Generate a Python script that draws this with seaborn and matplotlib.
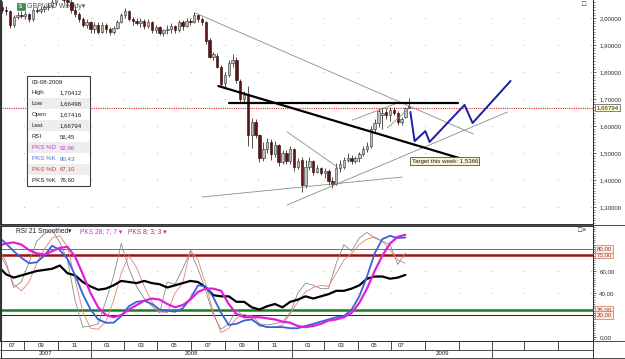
import matplotlib
matplotlib.use("Agg")
import matplotlib.pyplot as plt
import matplotlib.transforms as mtransforms
from matplotlib.patches import Rectangle
from matplotlib.lines import Line2D
from matplotlib.ticker import FuncFormatter, MultipleLocator
import numpy as np
import pandas as pd
import seaborn as sns

# Velas semanales GBPUSD, la semana 0 es el 23-07-2007
primera_semana = pd.Timestamp("2007-07-23")

aperturas = [
    2.040, 2.030, 2.025, 1.975, 2.005, 2.012, 2.008, 2.015, 1.995, 2.030,
    2.025, 2.035, 2.040, 2.045, 2.060, 2.080, 2.090, 2.065, 2.060, 2.030,
    2.015, 1.995, 1.975, 1.985, 1.960, 1.975, 1.950, 1.975, 1.960, 1.950,
    1.962, 1.985, 2.010, 2.025, 1.995, 1.990, 1.980, 1.990, 1.970, 1.985,
    1.955, 1.965, 1.945, 1.955, 1.960, 1.970, 1.955, 1.985, 1.970, 1.990,
    1.985, 2.010, 1.995, 1.985, 1.918, 1.855, 1.860, 1.820, 1.760, 1.790,
    1.835, 1.845, 1.765, 1.700, 1.720, 1.565, 1.615, 1.565, 1.480, 1.515,
    1.540, 1.495, 1.530, 1.465, 1.500, 1.470, 1.515, 1.450, 1.475, 1.380,
    1.450, 1.470, 1.430, 1.445, 1.425, 1.435, 1.395, 1.385, 1.445, 1.450,
    1.475, 1.480, 1.470, 1.480, 1.495, 1.515, 1.525, 1.590, 1.610, 1.640,
    1.650, 1.640, 1.660, 1.650, 1.615, 1.635, 1.67416]
maximos = [
    2.062, 2.045, 2.030, 2.011, 2.022, 2.025, 2.025, 2.020, 2.037, 2.040,
    2.045, 2.050, 2.055, 2.070, 2.085, 2.116, 2.105, 2.085, 2.075, 2.045,
    2.022, 2.004, 1.995, 1.990, 1.985, 1.985, 1.985, 1.980, 1.967, 1.970,
    1.993, 2.020, 2.037, 2.030, 2.005, 2.000, 2.000, 1.998, 1.995, 1.990,
    1.975, 1.970, 1.960, 1.975, 1.981, 1.975, 1.993, 1.993, 2.000, 2.000,
    2.022, 2.015, 2.005, 1.990, 1.925, 1.875, 1.870, 1.825, 1.800, 1.845,
    1.868, 1.855, 1.775, 1.730, 1.750, 1.630, 1.625, 1.570, 1.540, 1.555,
    1.550, 1.545, 1.535, 1.510, 1.510, 1.525, 1.520, 1.480, 1.485, 1.474,
    1.485, 1.474, 1.456, 1.448, 1.444, 1.440, 1.411, 1.463, 1.474, 1.487,
    1.500, 1.493, 1.490, 1.505, 1.525, 1.540, 1.600, 1.625, 1.668, 1.672,
    1.668, 1.672, 1.670, 1.655, 1.635, 1.672, 1.70412]
minimos = [
    2.018, 2.010, 1.963, 1.966, 1.995, 2.000, 1.998, 1.985, 1.990, 2.018,
    2.020, 2.022, 2.030, 2.038, 2.050, 2.070, 2.055, 2.040, 2.020, 2.005,
    1.985, 1.965, 1.963, 1.944, 1.945, 1.940, 1.945, 1.945, 1.937, 1.940,
    1.960, 1.980, 2.000, 1.990, 1.975, 1.974, 1.965, 1.960, 1.962, 1.945,
    1.944, 1.937, 1.935, 1.940, 1.944, 1.945, 1.950, 1.956, 1.965, 1.974,
    1.980, 1.985, 1.975, 1.905, 1.850, 1.845, 1.815, 1.750, 1.745, 1.780,
    1.820, 1.760, 1.690, 1.685, 1.525, 1.520, 1.555, 1.465, 1.470, 1.500,
    1.475, 1.485, 1.450, 1.460, 1.460, 1.460, 1.435, 1.440, 1.355, 1.370,
    1.437, 1.419, 1.426, 1.419, 1.407, 1.381, 1.370, 1.380, 1.430, 1.440,
    1.465, 1.460, 1.462, 1.465, 1.490, 1.505, 1.520, 1.575, 1.595, 1.590,
    1.625, 1.620, 1.640, 1.605, 1.605, 1.630, 1.66498]
cierres = [
    2.030, 2.025, 1.975, 2.005, 2.012, 2.008, 2.015, 1.995, 2.030, 2.025,
    2.035, 2.040, 2.045, 2.060, 2.080, 2.090, 2.065, 2.060, 2.030, 2.015,
    1.995, 1.975, 1.985, 1.960, 1.975, 1.950, 1.975, 1.960, 1.950, 1.962,
    1.985, 2.010, 2.025, 1.995, 1.990, 1.980, 1.990, 1.970, 1.985, 1.955,
    1.965, 1.945, 1.955, 1.960, 1.970, 1.955, 1.985, 1.970, 1.990, 1.985,
    2.010, 1.995, 1.985, 1.915, 1.855, 1.865, 1.820, 1.755, 1.790, 1.835,
    1.845, 1.770, 1.700, 1.715, 1.565, 1.615, 1.565, 1.480, 1.515, 1.540,
    1.495, 1.530, 1.465, 1.500, 1.470, 1.515, 1.450, 1.470, 1.380, 1.450,
    1.470, 1.430, 1.445, 1.425, 1.435, 1.395, 1.385, 1.445, 1.460, 1.475,
    1.480, 1.470, 1.480, 1.495, 1.515, 1.525, 1.590, 1.610, 1.655, 1.650,
    1.640, 1.660, 1.650, 1.615, 1.625, 1.668, 1.66794]

# Indicadores leidos cada dos semanas desde el 16-07-2007
fechas_ind = pd.date_range("2007-07-16", periods=54, freq="14D")
rsi = [64, 57, 54, 56, 58, 60, 61, 62, 65, 58, 56, 50, 46, 43, 44, 47, 51, 50,
       49, 51, 49, 48, 45, 47, 49, 51, 50, 45, 38, 37, 37, 32, 32, 27, 25, 28,
       30, 27, 32, 34, 37, 35, 37, 39, 42, 42, 44, 47, 53, 55, 55, 53, 54, 56.45]
pks_d_lento = [83, 85, 86, 84, 79, 76, 75, 78, 81, 82, 73, 57, 40, 27, 20, 18,
               20, 25, 29, 33, 35, 34, 30, 27, 29, 34, 41, 44, 44, 42, 30, 21,
               18, 18, 18, 17, 16, 14, 13, 10, 9, 10, 12, 15, 16, 18, 22, 31,
               44, 60, 74, 85, 91, 92.96]
pks_k_lento = [91, 85, 78, 72, 67, 68, 74, 83, 79, 71, 56, 39, 25, 16, 13, 13,
               19, 28, 32, 33, 30, 25, 24, 23, 26, 35, 47, 46, 36, 22, 11, 12,
               15, 16, 11, 9, 9, 9, 8, 8, 10, 12, 14, 16, 18, 19, 25, 37, 55,
               76, 89, 92, 90, 90.43]
pks_d_rapido = [78, 65, 48, 42, 50, 67, 80, 90, 92, 82, 52, 23, 8, 7, 14, 33,
                58, 74, 63, 46, 32, 23, 22, 40, 49, 79, 70, 48, 22, 4, 8, 17,
                21, 17, 10, 9, 9, 11, 21, 32, 41, 45, 47, 46, 58, 70, 76, 84,
                89, 91, 87, 79, 70, 67.10]
pks_k_rapido = [82, 68, 45, 50, 68, 87, 94, 97, 86, 70, 33, 9, 10, 12, 33, 55,
                85, 62, 46, 35, 28, 22, 50, 48, 62, 78, 62, 42, 20, 7, 12, 25,
                18, 20, 12, 11, 12, 14, 22, 40, 49, 47, 44, 44, 67, 84, 78, 90,
                95, 90, 87, 84, 66, 76.60]

# Dibujos sobre el grafico: (semana inicio, precio inicio, semana fin, precio fin)
lineas_finas = [(50.3, 2.0185, 122.7, 1.5704), (74.2, 1.3074, 131.6, 1.6519),
                (52.1, 1.337, 104.2, 1.411), (74.2, 1.578, 87.3, 1.448),
                (91.2, 1.622, 103.7, 1.689), (100.3, 1.593, 106.3, 1.670)]
lineas_gruesas = [(56.3, 1.748, 123.3, 1.463), (59.1, 1.685, 118.6, 1.685)]
proyeccion_semanas = [106.3, 107.4, 110.2, 111.3, 120.4, 122.5, 132.4]
proyeccion_precios = [1.652, 1.544, 1.581, 1.541, 1.678, 1.611, 1.767]

filas_info = [("03-08-2009", "", "#202020"), ("High", "1,70412", "#202020"),
              ("Low", "1,66498", "#202020"), ("Open", "1,67416", "#202020"),
              ("Last", "1,66794", "#202020"), ("RSI", "56,45", "#202020"),
              ("PKS %D", "92,96", "#d030d0"), ("PKS %K", "90,43", "#4a6ad0"),
              ("PKS %D", "67,10", "#c83c3c"), ("PKS %K", "76,60", "#202020")]


def semana(fecha):
    return (pd.Timestamp(fecha) - primera_semana).days / 7.0


def fx(px):
    return px / 625.0


def fy(py):
    return 1.0 - py / 359.0


sns.set_style("white")
plt.rcParams['font.family'] = ['Liberation Sans', 'DejaVu Sans']
fs = 4.4

fig = plt.figure(figsize=(6.25, 3.59), dpi=100)
ax_p = fig.add_axes([0, fy(224), fx(593), 224 / 359])
ax_i = fig.add_axes([0, fy(341), fx(593), (341 - 226) / 359])
ax_t = fig.add_axes([0, fy(358), fx(593), (358 - 341) / 359])

x_min, x_max = semana("2007-07-19"), semana("2010-07-04")

# rejilla de puntos cada dos meses
inicios_mes = pd.date_range("2007-07-01", "2010-07-01", freq="2MS")
x_rejilla = [semana(m) for m in inicios_mes]

# ---------------- panel de precios ----------------
o = np.array(aperturas)
h = np.array(maximos)
l = np.array(minimos)
c = np.array(cierres)
x_velas = np.arange(len(c))
alcista = c >= o

gx, gy = np.meshgrid(x_rejilla, np.arange(1.3, 2.05, 0.1))
ax_p.scatter(gx.ravel(), gy.ravel(), s=0.6, color="#b8b8b8", lw=0, zorder=1)

ax_p.axhline(c[-1], color="#c83030", ls=(0, (1, 1)), lw=0.8, zorder=2)
ax_p.vlines(x_velas, l, h, color="#3a3030", lw=0.6, zorder=3)
ax_p.bar(x_velas[alcista], (c - o)[alcista], bottom=o[alcista], width=0.62,
         color="#bac6b8", edgecolor="#303030", lw=0.4, zorder=4)
ax_p.bar(x_velas[~alcista], (o - c)[~alcista], bottom=c[~alcista], width=0.62,
         color="#5e1414", edgecolor="#2a0808", lw=0.4, zorder=4)

for s0, p0, s1, p1 in lineas_finas:
    ax_p.plot([s0, s1], [p0, p1], color="#8c8c8c", lw=0.6, zorder=5)
for s0, p0, s1, p1 in lineas_gruesas:
    ax_p.plot([s0, s1], [p0, p1], color="black", lw=1.6, zorder=5)
sns.lineplot(x=proyeccion_semanas, y=proyeccion_precios, ax=ax_p,
             color="#1c1ca8", lw=1.4, sort=False, zorder=6)

ax_p.text(106.6, 1.470, "Target this week: 1,5366", fontsize=fs,
          color="#202020", va="center", ha="left", zorder=7,
          bbox=dict(boxstyle="square,pad=0.2", fc="#fbf3d5", ec="#505050", lw=0.6))

ax_p.set_xlim(x_min, x_max)
ax_p.set_ylim(2.0 - (224 - 18) / 270, 2.0 + 18 / 270)
ax_p.yaxis.tick_right()
ax_p.set_yticks(np.arange(1.3, 2.05, 0.1))
ax_p.yaxis.set_minor_locator(MultipleLocator(0.01))
ax_p.yaxis.set_major_formatter(FuncFormatter(lambda v, p: f"{v:.5f}".replace(".", ",")))
ax_p.tick_params(axis="y", which="major", length=2.5, width=0.5, pad=2,
                 labelsize=fs, colors="#303030", right=True, left=False)
ax_p.tick_params(axis="y", which="minor", length=1.2, width=0.4, right=True, left=False)
ax_p.set_xticks([])
for lado in ["top"]:
    ax_p.spines[lado].set_visible(False)
for lado in ["left", "right", "bottom"]:
    ax_p.spines[lado].set_color("#303030")
    ax_p.spines[lado].set_linewidth(0.7)

trans_p = mtransforms.blended_transform_factory(ax_p.transAxes, ax_p.transData)
ax_p.text(1.006, c[-1], f"{c[-1]:.5f}".replace(".", ","), transform=trans_p,
          fontsize=fs, va="center", ha="left", color="#202020", zorder=8,
          bbox=dict(boxstyle="square,pad=0.2", fc="#ffffd8", ec="#505050", lw=0.5))

ax_p.text(fx(27), fy(6), "GBPUSD Weekly\u25be", transform=fig.transFigure,
          fontsize=5, color="#505050", va="center", ha="left", zorder=1)
fig.add_artist(Rectangle((fx(17), fy(10)), fx(8), 7 / 359, fc="#3d8d52",
                         ec="#2c6a3c", lw=0.4, transform=fig.transFigure))
fig.text(fx(21), fy(6), "S", fontsize=3.5, color="white", ha="center", va="center",
         fontweight="bold")
fig.text(fx(584), fy(5), "\u25a1", fontsize=5, color="#202020", ha="center", va="center")

# ---------------- panel de indicadores ----------------
df_ind = pd.DataFrame({"semana": [semana(f) for f in fechas_ind], "rsi": rsi,
                       "pks_d_lento": pks_d_lento, "pks_k_lento": pks_k_lento,
                       "pks_d_rapido": pks_d_rapido, "pks_k_rapido": pks_k_rapido})

gx, gy = np.meshgrid(x_rejilla, [40, 60])
ax_i.scatter(gx.ravel(), gy.ravel(), s=0.6, color="#b8b8b8", lw=0, zorder=1)

ax_i.axhline(80, color="#c84848", lw=0.7, zorder=2)
ax_i.axhline(75, color="#a01010", lw=1.8, zorder=2)
ax_i.axhline(25, color="#1d7d1d", lw=1.8, zorder=2)
ax_i.axhline(20, color="#202020", lw=0.7, zorder=2)

sns.lineplot(data=df_ind, x="semana", y="pks_k_rapido", ax=ax_i, color="#8a8a8a", lw=0.6)
sns.lineplot(data=df_ind, x="semana", y="pks_d_rapido", ax=ax_i, color="#e0826e", lw=0.6)
sns.lineplot(data=df_ind, x="semana", y="rsi", ax=ax_i, color="black", lw=1.6)
sns.lineplot(data=df_ind, x="semana", y="pks_k_lento", ax=ax_i, color="#3a62d8", lw=1.3)
sns.lineplot(data=df_ind, x="semana", y="pks_d_lento", ax=ax_i, color="#e020d8", lw=1.6)

ax_i.set_xlim(x_min, x_max)
ax_i.set_ylim(-3.6, 100.9)
ax_i.set_xlabel("")
ax_i.set_ylabel("")
ax_i.set_xticks([])
ax_i.yaxis.tick_right()
ax_i.set_yticks([0, 20, 40, 60, 80])
ax_i.set_yticklabels(["0,00", "", "40,00", "60,00", ""])
ax_i.yaxis.set_minor_locator(MultipleLocator(2))
ax_i.tick_params(axis="y", which="major", length=2.5, width=0.5, pad=2,
                 labelsize=fs, colors="#303030", right=True, left=False)
ax_i.tick_params(axis="y", which="minor", length=1.2, width=0.4, right=True, left=False)
for lado in ["left", "right", "bottom", "top"]:
    ax_i.spines[lado].set_color("#303030")
    ax_i.spines[lado].set_linewidth(0.7)

trans_i = mtransforms.blended_transform_factory(ax_i.transAxes, ax_i.transData)
for nivel, orden in [(75, 8), (80, 9), (25, 8), (20, 9)]:
    ax_i.text(1.006, nivel, f"{nivel:.2f}".replace(".", ","), transform=trans_i,
              fontsize=fs, va="center", ha="left", color="#b03020", zorder=orden,
              bbox=dict(boxstyle="square,pad=0.2", fc="#fdece6", ec="#d07060", lw=0.5))

ax_i.text(16 / 593, 0.955, "RSI 21 Smoothed\u25be", transform=ax_i.transAxes,
          fontsize=fs + 0.4, color="#202020", va="center")
ax_i.text(80 / 593, 0.955, "PKS 28; 7; 7 \u25be", transform=ax_i.transAxes,
          fontsize=fs + 0.4, color="#c830c8", va="center")
ax_i.text(128 / 593, 0.955, "PKS 8; 3; 3 \u25be", transform=ax_i.transAxes,
          fontsize=fs + 0.4, color="#b83030", va="center")
fig.text(fx(582), fy(231), "\u25a1\u00d7", fontsize=5, color="#202020",
         ha="center", va="center")

# ---------------- cuadro de datos ----------------
fig.add_artist(Rectangle((fx(27), fy(186)), fx(63), 110 / 359, fc="white",
                         ec="#404040", lw=0.8, transform=fig.transFigure, zorder=9))
for k, (etiqueta, valor, color) in enumerate(filas_info):
    y_fila = 82 + 10.9 * k
    if k % 2 == 0 and k > 0:
        fig.add_artist(Rectangle((fx(27.5), fy(y_fila + 5.4)), fx(62), 10.9 / 359,
                                 fc="#ededed", ec="none", transform=fig.transFigure,
                                 zorder=9.5))
    fig.text(fx(32), fy(y_fila), etiqueta, fontsize=fs, color=color, va="center",
             zorder=10)
    if valor:
        fig.text(fx(60), fy(y_fila), valor, fontsize=fs, color=color, va="center",
                 zorder=10)

# ---------------- eje de fechas ----------------
ultima = semana(primera_semana + pd.Timedelta(weeks=len(c) - 1)) + 0.5
ax_t.set_xlim(x_min, x_max)
ax_t.set_ylim(0, 2)
ax_t.axis("off")
for k, m in enumerate(inicios_mes[:-1]):
    s0 = semana(m)
    s1 = semana(inicios_mes[k + 1])
    if s0 > x_min:
        y_base = 0 if m.month == 1 else 1
        ax_t.plot([s0, s0], [y_base, 2], color="#303030", lw=0.6)
    if s0 < ultima:
        centro = (max(s0, x_min) + min(s1, ultima)) / 2
        ax_t.text(centro, 1.5, m.strftime("%m"), fontsize=fs, ha="center",
                  va="center", color="#202020")
anios = [2007, 2008, 2009]
for a in anios:
    s0 = max(semana(f"{a}-01-01"), x_min)
    s1 = semana(f"{a + 1}-01-01") if a < anios[-1] else x_max
    ax_t.text((s0 + s1) / 2, 0.5, str(a), fontsize=fs, ha="center", va="center",
              color="#202020")

# lineas de marco
for y0, x1 in [(341, 625), (350, 593), (358, 625), (225.5, 625)]:
    fig.add_artist(Line2D([0, fx(x1)], [fy(y0), fy(y0)], color="#303030", lw=0.6))
fig.add_artist(Line2D([fx(593), fx(593)], [fy(358), 1], color="#303030", lw=0.7))
fig.add_artist(Line2D([0.0008, 0.0008], [fy(358), 1], color="#303030", lw=0.8))

fig.savefig("out.png", dpi=100)
